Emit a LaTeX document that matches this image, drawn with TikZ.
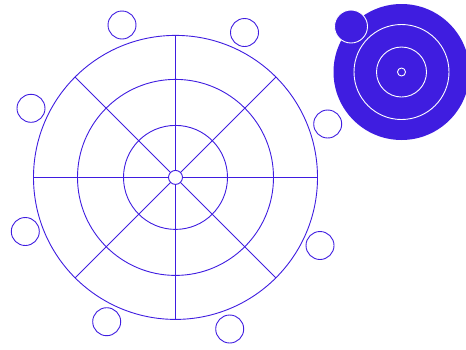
\documentclass[tikz,border=0pt]{standalone}
\definecolor{ink}{RGB}{63,29,224}
\tikzset{
  ring/.style={circle, draw=ink, line width=0.9pt, inner sep=0pt, outer sep=0pt, minimum size=#1},
  bub/.style={ring=28pt},
  wring/.style={circle, draw=white, line width=0.9pt, inner sep=0pt, outer sep=0pt, minimum size=#1},
  spoke/.style={color=ink, line width=0.9pt}
}
\begin{document}
\begin{tikzpicture}[x=1pt,y=-1pt]
\useasboundingbox (0,0) rectangle (466,349);
\clip (0,0) rectangle (466,349);
% main wheel
\node[ring=284pt] (outer) at (175.5,177.4) {};
\node[ring=196pt] (mid) at (175.5,177.4) {};
\node[ring=104pt] (inner) at (175.5,177.4) {};
\node[ring=14pt] (hub) at (175.5,177.4) {};
\foreach \a in {0,45,...,315}{
  \draw[spoke] (hub.\a) -- (outer.\a);
}
% bubbles
\node[bub] (b1) at (122,25) {};
\node[bub] (b2) at (244.5,32.5) {};
\node[bub] (b3) at (327.7,124) {};
\node[bub] (b4) at (320,245.5) {};
\node[bub] (b5) at (229.7,329) {};
\node[bub] (b6) at (106.7,321.7) {};
\node[bub] (b7) at (25.3,231.5) {};
\node[bub] (b8) at (31,108.3) {};
% filled target
\node[circle, fill=ink, inner sep=0pt, minimum size=136pt] (disc) at (401.5,72) {};
\node[wring=95pt] (t1) at (401.5,72) {};
\node[wring=50pt] (t2) at (401.5,72) {};
\node[wring=8pt] (t3) at (401.5,72) {};
\node[circle, fill=ink, draw=white, line width=0.9pt, inner sep=0pt, minimum size=33pt] (moon) at (351,26.5) {};
\end{tikzpicture}
\end{document}
